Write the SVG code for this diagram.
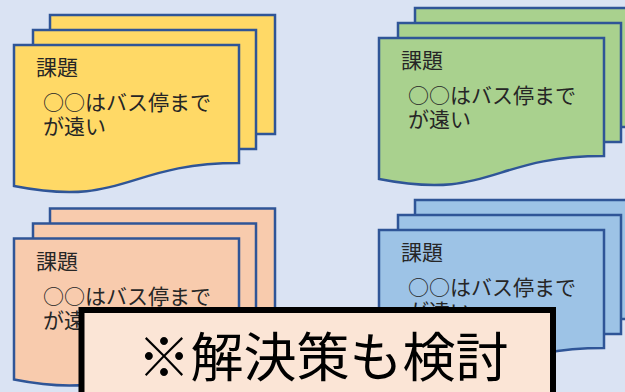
<svg xmlns="http://www.w3.org/2000/svg" width="625" height="392" viewBox="0 0 625 392">
<defs>
<style>
.pg{stroke:#2F5597;stroke-width:2.5;stroke-linejoin:miter}
.y{fill:#FFD966}.g{fill:#A9D18E}.o{fill:#F8CBAD}.b{fill:#9DC3E6}
.t{font-family:"Noto Sans CJK JP","Noto Sans CJK SC",sans-serif;font-size:21px;fill:#262626;stroke:none}
.big{font-family:"Noto Sans CJK JP","Noto Sans CJK SC",sans-serif;font-size:53px;fill:#000}
</style>
</defs>
<rect width="625" height="392" fill="#DAE3F3"/>
<g id="node-yellow" class="pg y">
<rect x="50" y="15" width="225" height="119"/>
<rect x="33" y="30" width="223" height="119"/>
<path d="M14,45 H239 V163 C126,163 126,208 14,186 Z"/>
<text class="t" x="36" y="75">課題</text><text class="t" x="43" y="110">○○はバス停まで</text><text class="t" x="43" y="134">が遠い</text>
</g>
<g id="node-green" class="pg g" transform="translate(365,-7)">
<rect x="50" y="15" width="225" height="119"/>
<rect x="33" y="30" width="223" height="119"/>
<path d="M14,45 H239 V163 C126,163 126,208 14,186 Z"/>
<text class="t" x="36" y="75">課題</text><text class="t" x="43" y="110">○○はバス停まで</text><text class="t" x="43" y="134">が遠い</text>
</g>
<g id="node-orange" class="pg o" transform="translate(0,193.5)">
<rect x="50" y="15" width="225" height="119"/>
<rect x="33" y="30" width="223" height="119"/>
<path d="M14,45 H239 V163 C126,163 126,208 14,186 Z"/>
<text class="t" x="36" y="75">課題</text><text class="t" x="43" y="110">○○はバス停まで</text><text class="t" x="43" y="134">が遠い</text>
</g>
<g id="node-blue" class="pg b" transform="translate(365,185)">
<rect x="50" y="15" width="225" height="119"/>
<rect x="33" y="30" width="223" height="119"/>
<path d="M14,45 H239 V163 C126,163 126,208 14,186 Z"/>
<text class="t" x="36" y="75">課題</text><text class="t" x="43" y="110">○○はバス停まで</text><text class="t" x="43" y="134">が遠い</text>
</g>
<g id="note">
<rect x="81.5" y="310" width="471.5" height="100" fill="#FBE5D6" stroke="#000" stroke-width="6"/>
<text class="big" x="137.5" y="377">※解決策も検討</text>
</g>
<g id="connectors"/>
</svg>
